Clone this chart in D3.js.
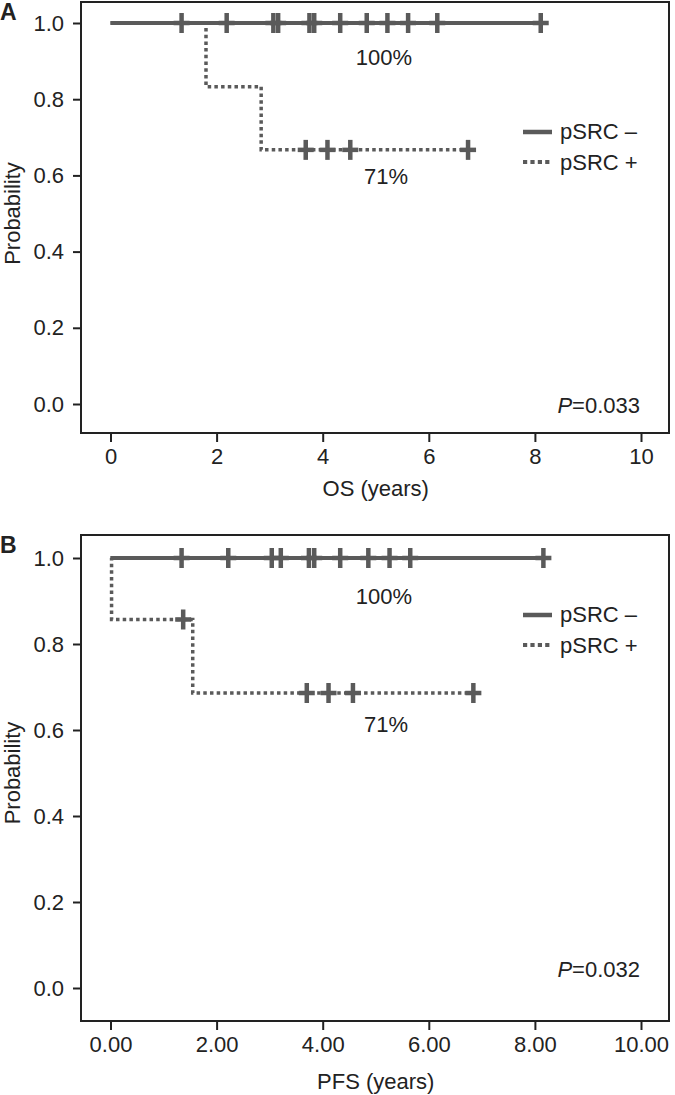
<!DOCTYPE html>
<html>
<head>
<meta charset="utf-8">
<script src="https://cdn.jsdelivr.net/npm/d3@7"></script>
<style>
  html, body { margin: 0; padding: 0; background: #fff; }
  svg { display: block; }
  text { font-family: "Liberation Sans", Arial, Helvetica, sans-serif; fill: #222; }
</style>
</head>
<body>
<svg id="chart" width="675" height="1095"></svg>
<script>
// ---------- data ----------
const xTickValues = [0, 2, 4, 6, 8, 10];
const yTickValues = [0, 0.2, 0.4, 0.6, 0.8, 1.0];
const seriesNames = ["pSRC \u2013", "pSRC +"];

// Panel A: overall survival
const osNegTimes = [0];
const osNegSurv = [1];
const osNegEnd = 8.11;
const osNegCensor = [1.34, 2.19, 3.07, 3.16, 3.75, 3.84, 4.33, 4.83, 5.22, 5.61, 6.16, 8.11];
const osPosTimes = [0, 1.80, 2.84];
const osPosSurv = [1, 0.833, 0.667];
const osPosEnd = 6.74;
const osPosCensor = [3.68, 4.09, 4.52, 6.74];
const osLabels = ["100%", "71%"];
const osP = "0.033";

// Panel B: progression-free survival
const pfsNegTimes = [0];
const pfsNegSurv = [1];
const pfsNegEnd = 8.16;
const pfsNegCensor = [1.34, 2.22, 3.04, 3.21, 3.74, 3.84, 4.33, 4.86, 5.26, 5.65, 8.16];
const pfsPosTimes = [0, 0.02, 1.55];
const pfsPosSurv = [1, 0.857, 0.686];
const pfsPosEnd = 6.84;
const pfsPosCensor = [1.37, 3.70, 4.11, 4.57, 6.84];
const pfsLabels = ["100%", "71%"];
const pfsP = "0.032";

// ---------- drawing ----------
const svg = d3.select("#chart");
const GREY = "#5a5a5a";
const INK = "#222";
const FS = 22;

function drawPanel(cfg) {
  const g = svg.append("g");
  const x = d3.scaleLinear().domain([0, 10]).range([110.5, 641]);
  const y = d3.scaleLinear().domain([0, 1]).range([cfg.y0, cfg.y1]);

  // box
  g.append("rect")
    .attr("x", cfg.boxL).attr("y", cfg.boxT)
    .attr("width", cfg.boxR - cfg.boxL).attr("height", cfg.boxB - cfg.boxT)
    .attr("fill", "none").attr("stroke", INK).attr("stroke-width", 2);

  // y axis
  const yAxis = d3.axisLeft(y).tickValues(yTickValues).tickFormat(d3.format(".1f"))
    .tickSize(8).tickPadding(9);
  const ya = g.append("g").attr("transform", `translate(${cfg.boxL},0)`).call(yAxis);
  ya.select(".domain").remove();
  ya.selectAll(".tick line").attr("stroke", INK).attr("stroke-width", 2);
  ya.selectAll(".tick text").attr("font-size", FS).attr("fill", INK)
    .style("font-family", "'Liberation Sans', Arial, sans-serif");

  // x axis
  const xAxis = d3.axisBottom(x).tickValues(xTickValues).tickFormat(cfg.xfmt)
    .tickSize(9).tickPadding(6);
  const xa = g.append("g").attr("transform", `translate(0,${cfg.boxB})`).call(xAxis);
  xa.select(".domain").remove();
  xa.selectAll(".tick line").attr("stroke", INK).attr("stroke-width", 2);
  xa.selectAll(".tick text").attr("font-size", FS).attr("fill", INK)
    .style("font-family", "'Liberation Sans', Arial, sans-serif");

  // axis titles
  g.append("text").attr("x", (x(0) + x(10)) / 2).attr("y", cfg.xTitleY)
    .attr("text-anchor", "middle").attr("font-size", FS).text(cfg.xTitle);
  g.append("text")
    .attr("transform", `translate(20,${(y(0) + y(1)) / 2}) rotate(-90)`)
    .attr("text-anchor", "middle").attr("font-size", FS).text("Probability");

  // panel letter
  g.append("text").attr("x", 0).attr("y", cfg.letterY)
    .attr("font-size", 23).attr("font-weight", "bold").attr("fill", "#111").text(cfg.letter);

  const line = d3.line().curve(d3.curveStepAfter).x(d => x(d[0])).y(d => y(d[1]));

  function survPts(times, surv, end) {
    const pts = times.map((t, i) => [t, surv[i]]);
    pts.push([end, surv[surv.length - 1]]);
    return pts;
  }
  function survAt(times, surv, t) {
    let s = surv[0];
    times.forEach((tt, i) => { if (tt <= t) s = surv[i]; });
    return s;
  }

  // positive (dotted) curve
  g.append("path").datum(survPts(cfg.posTimes, cfg.posSurv, cfg.posEnd))
    .attr("d", line).attr("fill", "none").attr("stroke", GREY)
    .attr("stroke-width", 3.5).attr("stroke-dasharray", "3.5,3.2");

  // negative (solid) curve
  g.append("path").datum(survPts(cfg.negTimes, cfg.negSurv, cfg.negEnd))
    .attr("d", line).attr("fill", "none").attr("stroke", GREY)
    .attr("stroke-width", 4);

  // censor crosses
  function crosses(times, tArr, sArr) {
    const cg = g.append("g").attr("stroke", GREY).attr("stroke-width", 4.5);
    times.forEach(t => {
      const cx = x(t), cy = y(survAt(tArr, sArr, t));
      cg.append("line").attr("x1", cx).attr("x2", cx).attr("y1", cy - 10).attr("y2", cy + 10);
      cg.append("line").attr("x1", cx - 8).attr("x2", cx + 8).attr("y1", cy).attr("y2", cy);
    });
  }
  crosses(cfg.negCensor, cfg.negTimes, cfg.negSurv);
  crosses(cfg.posCensor, cfg.posTimes, cfg.posSurv);

  // percentage labels
  g.append("text").attr("x", 384).attr("y", cfg.lab1Y).attr("text-anchor", "middle")
    .attr("font-size", FS).text(cfg.labels[0]);
  g.append("text").attr("x", 386).attr("y", cfg.lab2Y).attr("text-anchor", "middle")
    .attr("font-size", FS).text(cfg.labels[1]);

  // legend
  const lg = g.append("g");
  lg.append("line").attr("x1", 523).attr("x2", 552).attr("y1", cfg.leg1Y).attr("y2", cfg.leg1Y)
    .attr("stroke", GREY).attr("stroke-width", 4.5);
  lg.append("line").attr("x1", 523).attr("x2", 552).attr("y1", cfg.leg1Y + 30).attr("y2", cfg.leg1Y + 30)
    .attr("stroke", GREY).attr("stroke-width", 4).attr("stroke-dasharray", "4.2,3.2");
  lg.append("text").attr("x", 560).attr("y", cfg.leg1Y + 7).attr("font-size", FS).text(seriesNames[0]);
  lg.append("text").attr("x", 560).attr("y", cfg.leg1Y + 38).attr("font-size", FS).text(seriesNames[1]);

  // p value
  const pt = g.append("text").attr("x", 640).attr("y", cfg.pY).attr("text-anchor", "end").attr("font-size", FS);
  pt.append("tspan").attr("font-style", "italic").text("P");
  pt.append("tspan").text("=" + cfg.p);
}

drawPanel({
  letter: "A", letterY: 20,
  boxL: 81, boxR: 669, boxT: 2, boxB: 433,
  y0: 404, y1: 23,
  xfmt: d3.format("d"), xTitle: "OS (years)", xTitleY: 496,
  negTimes: osNegTimes, negSurv: osNegSurv, negEnd: osNegEnd, negCensor: osNegCensor,
  posTimes: osPosTimes, posSurv: osPosSurv, posEnd: osPosEnd, posCensor: osPosCensor,
  labels: osLabels, lab1Y: 65, lab2Y: 184,
  leg1Y: 132, p: osP, pY: 413
});

drawPanel({
  letter: "B", letterY: 553,
  boxL: 81, boxR: 669, boxT: 535, boxB: 1021,
  y0: 988, y1: 558,
  xfmt: d3.format(".2f"), xTitle: "PFS (years)", xTitleY: 1089,
  negTimes: pfsNegTimes, negSurv: pfsNegSurv, negEnd: pfsNegEnd, negCensor: pfsNegCensor,
  posTimes: pfsPosTimes, posSurv: pfsPosSurv, posEnd: pfsPosEnd, posCensor: pfsPosCensor,
  labels: pfsLabels, lab1Y: 604, lab2Y: 732,
  leg1Y: 615, p: pfsP, pY: 977
});
</script>
</body>
</html>
